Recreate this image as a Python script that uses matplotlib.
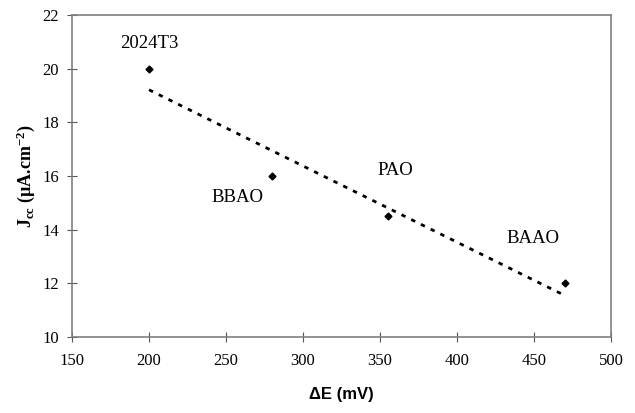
import numpy as np
import matplotlib
matplotlib.use("Agg")
import matplotlib.pyplot as plt

# data
samples = ["2024T3", "BBAO", "PAO", "BAAO"]
delta_e = [200, 280, 355, 470]
jcc = [20.0, 16.0, 14.5, 12.0]
# where the sample names sit (data coords)
label_x = [200.5, 257.5, 360, 449]
label_y = [20.95, 15.2, 16.2, 13.67]

plt.rcParams['mathtext.fontset'] = 'custom'
plt.rcParams['mathtext.rm'] = 'Liberation Serif'
plt.rcParams['mathtext.it'] = 'Liberation Serif:italic'
plt.rcParams['mathtext.bf'] = 'Liberation Serif:bold'

fig = plt.figure(figsize=(6.35, 4.13), dpi=100)
ax = fig.add_axes([0.1134, 0.184, 0.849, 0.78])

#points
ax.plot(delta_e, jcc, "D", color="black", markersize=3.5, zorder=3)

#linear trendline
k, b = np.polyfit(delta_e, jcc, 1)
xt = np.array([min(delta_e), max(delta_e)])
ax.plot(xt, k * xt + b, color="black", lw=2.0, linestyle=(0, (1.6, 2.3)),
        dash_capstyle="butt")

for name, lx, ly in zip(samples, label_x, label_y):
    ax.text(lx, ly, name, ha="center", va="center", fontsize=13.5,
            family="Liberation Serif")

ax.set_xlim(150, 500)
ax.set_ylim(10, 22)
ax.set_xticks(np.arange(150, 501, 50))
ax.set_yticks(np.arange(10, 23, 2))
for lab in ax.get_xticklabels() + ax.get_yticklabels():
    lab.set_family("Liberation Serif")
    lab.set_fontsize(12)
ax.tick_params(direction="inout", length=7, width=0.8, color="#555555")
ax.tick_params(axis="x", pad=8)
ax.tick_params(axis="y", pad=6)
for s in ax.spines.values():
    s.set_color("#808080")
    s.set_linewidth(1.2)

ax.set_xlabel("ΔE (mV)", family="Liberation Sans", fontweight="bold",
              fontsize=12, labelpad=13)
ax.set_ylabel(r"J$_{\mathbf{cc}}$ (µA.cm$^{\mathbf{-2}}$)", family="Liberation Serif",
              fontweight="bold", fontsize=13, labelpad=4)

fig.savefig("out.png", dpi=100)
